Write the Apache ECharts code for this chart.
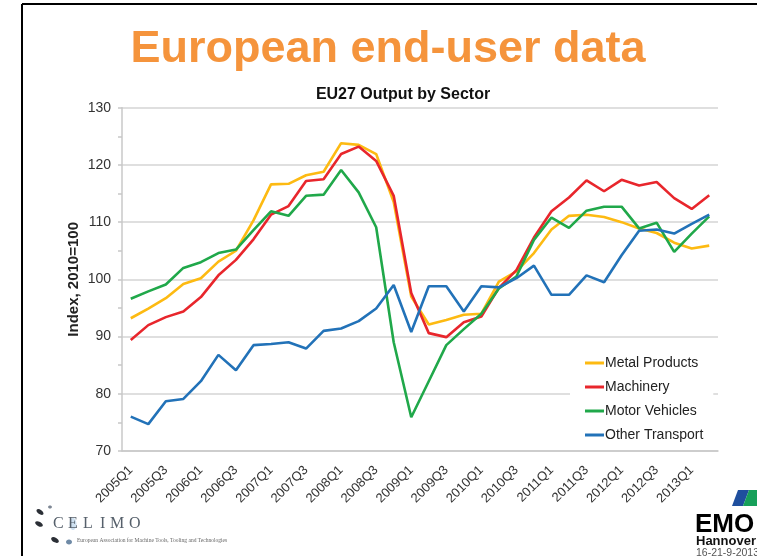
<!DOCTYPE html>
<html><head><meta charset="utf-8">
<script src="https://cdn.jsdelivr.net/npm/echarts@6/dist/echarts.min.js"></script>
<style>html,body{margin:0;padding:0;background:#fff}#c{width:757px;height:556px}</style>
</head><body><div id="c"></div>
<script>
const categories = ['2005Q1','2005Q2','2005Q3','2005Q4','2006Q1','2006Q2','2006Q3','2006Q4',
  '2007Q1','2007Q2','2007Q3','2007Q4','2008Q1','2008Q2','2008Q3','2008Q4',
  '2009Q1','2009Q2','2009Q3','2009Q4','2010Q1','2010Q2','2010Q3','2010Q4',
  '2011Q1','2011Q2','2011Q3','2011Q4','2012Q1','2012Q2','2012Q3','2012Q4',
  '2013Q1','2013Q2'];
const metalProducts = [93.2, 94.9, 96.7, 99.2, 100.2, 103.1, 105.0, 110.3, 116.6, 116.7, 118.2, 118.8,
  123.8, 123.5, 121.9, 113.5, 97.0, 92.1, 92.9, 93.8, 94.0, 99.6, 101.4, 104.6, 108.7, 111.1,
  111.3, 110.9, 110.0, 108.9, 108.1, 106.4, 105.4, 105.9];
const machinery = [89.4, 92.0, 93.4, 94.4, 96.9, 100.7, 103.4, 107.0, 111.3, 112.8, 117.2, 117.5,
  121.9, 123.2, 120.7, 114.6, 97.6, 90.6, 89.9, 92.5, 93.5, 98.5, 101.6, 107.3, 111.9, 114.3,
  117.3, 115.4, 117.4, 116.4, 117.0, 114.2, 112.3, 114.7];
const motorVehicles = [96.6, 97.9, 99.1, 102.0, 103.0, 104.6, 105.2, 108.6, 111.9, 111.1, 114.6, 114.8,
  119.1, 115.2, 109.1, 89.0, 75.9, 82.2, 88.5, 91.3, 94.0, 98.4, 100.5, 106.9, 110.8, 109.0,
  112.0, 112.7, 112.7, 108.9, 109.9, 104.8, 108.0, 111.0];
const otherTransport = [76.0, 74.7, 78.7, 79.1, 82.2, 86.8, 84.1, 88.5, 88.7, 89.0, 87.9, 91.0,
  91.4, 92.7, 94.9, 99.0, 90.8, 98.8, 98.8, 94.4, 98.8, 98.6, 100.2, 102.4, 97.3, 97.3,
  100.7, 99.5, 104.2, 108.5, 108.7, 108.0, 109.7, 111.3];
const seriesNames = ['Metal Products', 'Machinery', 'Motor Vehicles', 'Other Transport'];
const seriesColors = ['#FDBA12', '#E8262C', '#20A84A', '#2272B8'];
const seriesData = [metalProducts, machinery, motorVehicles, otherTransport];
const yTicks = {min: 70, max: 130, interval: 10};

const FF = 'Liberation Sans, Arial, sans-serif';
const chart = echarts.init(document.getElementById('c'), null, {renderer: 'canvas'});

const series = seriesNames.map((n, i) => ({
  name: n, type: 'line', data: seriesData[i], symbol: 'none', smooth: false,
  lineStyle: {color: seriesColors[i], width: 2.6}, itemStyle: {color: seriesColors[i]},
  emphasis: {disabled: true}, animation: false
}));

const celimo = [['C',53],['E',68],['L',83],['I',100],['M',110],['O',129]];

chart.setOption({
  animation: false,
  backgroundColor: '#ffffff',
  grid: {left: 122, right: 39, top: 107.7, bottom: 105, containLabel: false},
  xAxis: {
    type: 'category', data: categories, boundaryGap: true,
    axisLine: {show: true, lineStyle: {color: '#c8c8c8', width: 1.5}},
    axisTick: {show: false},
    axisLabel: {interval: 1, rotate: 45, fontSize: 13, color: '#333', fontFamily: FF, margin: 17},
    splitLine: {show: false}
  },
  yAxis: {
    type: 'value', min: yTicks.min, max: yTicks.max, interval: yTicks.interval,
    name: 'Index, 2010=100', nameLocation: 'middle', nameGap: 41, nameRotate: 90,
    nameMoveOverlap: false,
    nameTextStyle: {fontSize: 15, fontWeight: 'bold', color: '#222', fontFamily: FF},
    axisLine: {show: true, lineStyle: {color: '#c8c8c8', width: 1.5}},
    axisTick: {show: true, length: 4, lineStyle: {color: '#c8c8c8', width: 1.5}},
    minorTick: {show: true, splitNumber: 2, length: 4, lineStyle: {color: '#c8c8c8', width: 1.5}},
    axisLabel: {fontSize: 14, color: '#333', fontFamily: FF, margin: 11},
    splitLine: {show: true, lineStyle: {color: '#d4d4d4', width: 1.5}}
  },
  legend: {
    data: seriesNames, orient: 'vertical', left: 570, top: 351,
    padding: [5, 10, 5, 15], itemWidth: 19, itemHeight: 3, itemGap: 10, icon: 'rect',
    backgroundColor: '#ffffff',
    textStyle: {fontSize: 14, lineHeight: 14, color: '#222', fontFamily: FF, padding: [0, 0, 0, -4]}
  },
  series: series,
  graphic: [
    {type: 'line', shape: {x1: 22, y1: 4, x2: 757, y2: 4}, style: {stroke: '#000', lineWidth: 2}, silent: true},
    {type: 'line', shape: {x1: 22, y1: 4, x2: 22, y2: 556}, style: {stroke: '#000', lineWidth: 2}, silent: true},
    {type: 'text', x: 388, y: 50, silent: true,
      style: {text: 'European end-user data', font: 'bold 45px Liberation Sans', fill: '#F5943C', textAlign: 'center', textVerticalAlign: 'middle'}},
    {type: 'text', x: 403, y: 94.5, silent: true,
      style: {text: 'EU27 Output by Sector', font: 'bold 16px Liberation Sans', fill: '#111', textAlign: 'center', textVerticalAlign: 'middle'}},
    // CELIMO logo
    {type: 'ellipse', shape: {cx: 40, cy: 512, rx: 4, ry: 2.2}, rotation: -0.6, originX: 40, originY: 512, style: {fill: '#2b2f36'}, silent: true},
    {type: 'ellipse', shape: {cx: 50, cy: 507, rx: 2, ry: 1.5}, style: {fill: '#7d8794'}, silent: true},
    {type: 'ellipse', shape: {cx: 39, cy: 524, rx: 4.2, ry: 2.2}, rotation: -0.5, originX: 39, originY: 524, style: {fill: '#2b2f36'}, silent: true},
    {type: 'ellipse', shape: {cx: 73, cy: 524, rx: 3.5, ry: 6}, style: {fill: '#b9d3ea', opacity: 0.7}, silent: true},
    {type: 'ellipse', shape: {cx: 55, cy: 540, rx: 4.2, ry: 2.4}, rotation: -0.5, originX: 55, originY: 540, style: {fill: '#2b2f36'}, silent: true},
    {type: 'ellipse', shape: {cx: 69, cy: 542, rx: 3, ry: 2.4}, style: {fill: '#6f8aa6'}, silent: true}
  ].concat(celimo.map(c => ({type: 'text', x: c[1], y: 524, silent: true,
      style: {text: c[0], font: '16px Liberation Serif', fill: '#56606b', textVerticalAlign: 'middle'}})))
  .concat([
    {type: 'text', x: 77, y: 541, silent: true,
      style: {text: 'European Association for Machine Tools, Tooling and Technologies', font: '5.5px Liberation Serif', fill: '#666', textVerticalAlign: 'middle'}},
    // EMO logo
    {type: 'polygon', shape: {points: [[738, 490], [749, 490], [743, 506], [732, 506]]}, style: {fill: '#1f4f9e'}, silent: true},
    {type: 'polygon', shape: {points: [[749, 490], [757, 490], [757, 506], [743, 506]]}, style: {fill: '#17a05a'}, silent: true},
    {type: 'text', x: 695, y: 525, silent: true,
      style: {text: 'EMO', font: 'bold 26px Liberation Sans', fill: '#000', textVerticalAlign: 'middle'}},
    {type: 'text', x: 696, y: 541.5, silent: true,
      style: {text: 'Hannover', font: 'bold 13px Liberation Sans', fill: '#111', textVerticalAlign: 'middle'}},
    {type: 'text', x: 696, y: 553, silent: true,
      style: {text: '16-21-9-2013', font: '10.5px Liberation Sans', fill: '#555', textVerticalAlign: 'middle'}}
  ])
});
</script>
</body></html>
